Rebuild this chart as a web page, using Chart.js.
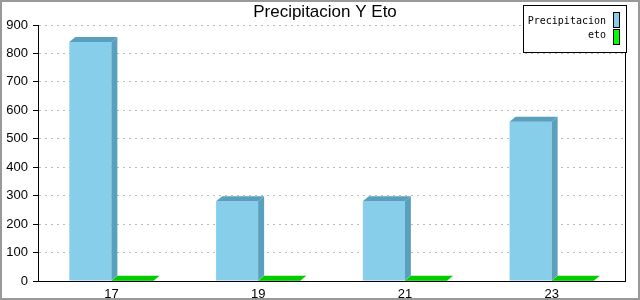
<!DOCTYPE html>
<html>
<head>
<meta charset="utf-8">
<script src="https://cdn.jsdelivr.net/npm/chart.js@4/dist/chart.umd.min.js"></script>
<style>
    html, body { margin: 0; padding: 0; background: #ffffff; }
    canvas { display: block; }
</style>
</head>
<body>
<canvas id="precip-chart" width="640" height="300"></canvas>
<script>
const categories = ["17", "19", "21", "23"];
const precipitacion = [840, 280, 280, 560];
const eto = [1, 1, 1, 1];
const yTicks = [0, 100, 200, 300, 400, 500, 600, 700, 800, 900];

const chartTitle = "Precipitacion Y Eto";
const seriesNames = ["Precipitacion", "eto"];
const frontColors = ["#87CEEB", "#00FF00"];
const depthColors = ["#58A0BD", "#00CC00"];

// === 3D faces, outer frame, title and legend ===
const decorPlugin = {
    id: "decor",
    beforeDraw(chart) {
        const ctx = chart.ctx;
        ctx.save();
        ctx.fillStyle = "#FFFFFF";
        ctx.fillRect(0, 0, chart.width, chart.height);
        ctx.strokeStyle = "#999999";
        ctx.lineWidth = 2;
        ctx.strokeRect(1, 1, chart.width - 2, chart.height - 2);
        ctx.restore();
    },
    afterDatasetsDraw(chart) {
        const ctx = chart.ctx;
        const dx = 6;
        const dy = 5;
        ctx.save();
        chart.data.datasets.forEach((ds, i) => {
            const meta = chart.getDatasetMeta(i);
            ctx.fillStyle = depthColors[i];
            meta.data.forEach((bar) => {
                const { x, y, base, width } = bar.getProps(["x", "y", "base", "width"], true);
                const x0 = x - width / 2;
                const x1 = x + width / 2;
                // side
                ctx.beginPath();
                ctx.moveTo(x1, y);
                ctx.lineTo(x1 + dx, y - dy);
                ctx.lineTo(x1 + dx, base - dy);
                ctx.lineTo(x1, base);
                ctx.closePath();
                ctx.fill();
                // top
                ctx.beginPath();
                ctx.moveTo(x0, y);
                ctx.lineTo(x0 + dx, y - dy);
                ctx.lineTo(x1 + dx, y - dy);
                ctx.lineTo(x1, y);
                ctx.closePath();
                ctx.fill();
            });
        });
        ctx.restore();
    },
    afterDraw(chart) {
        const ctx = chart.ctx;
        const area = chart.chartArea;
        ctx.save();

        // right frame line
        ctx.strokeStyle = "#000000";
        ctx.lineWidth = 1;
        ctx.beginPath();
        ctx.moveTo(Math.round(area.right) + 0.5, area.top);
        ctx.lineTo(Math.round(area.right) + 0.5, area.bottom);
        ctx.stroke();

        // title
        ctx.fillStyle = "#000000";
        ctx.font = "17px 'Liberation Sans', Arial, sans-serif";
        ctx.textAlign = "center";
        ctx.textBaseline = "alphabetic";
        ctx.fillText(chartTitle, 325, 17);

        // legend
        const lx = 523, ly = 5, lw = 103, lh = 47;
        ctx.fillStyle = "#FFFFFF";
        ctx.fillRect(lx, ly, lw, lh);
        ctx.strokeStyle = "#000000";
        ctx.strokeRect(lx + 0.5, ly + 0.5, lw, lh);
        ctx.font = "10px 'DejaVu Sans Mono', monospace";
        ctx.textAlign = "right";
        ctx.textBaseline = "middle";
        seriesNames.forEach((name, i) => {
            const cy = 21.5 + i * 14;
            ctx.fillStyle = "#000000";
            ctx.fillText(name, 606, cy);
            const top = 12 + i * 17;
            ctx.fillStyle = frontColors[i];
            ctx.fillRect(613, top, 6, 15);
            ctx.strokeRect(613.5, top + 0.5, 6, 15);
        });
        ctx.restore();
    },
};

// === Initialize Chart ===
Chart.defaults.font.family = "'Liberation Sans', Arial, sans-serif";
Chart.defaults.font.size = 13;
Chart.defaults.color = "#000000";

const ctx = document.getElementById("precip-chart").getContext("2d");
new Chart(ctx, {
    type: "bar",
    data: {
        labels: categories,
        datasets: [
            { label: seriesNames[0], data: precipitacion, backgroundColor: frontColors[0] },
            { label: seriesNames[1], data: eto, backgroundColor: frontColors[1] },
        ],
    },
    options: {
        responsive: false,
        animation: false,
        events: [],
        categoryPercentage: 0.573,
        barPercentage: 1,
        layout: { padding: { top: 25, right: 15, left: 0, bottom: 0 } },
        plugins: {
            legend: { display: false },
            title: { display: false },
            tooltip: { enabled: false },
        },
        scales: {
            x: {
                grid: { display: false, drawTicks: false },
                border: { display: true, color: "#000000", width: 1 },
                ticks: { padding: 6, font: { size: 13 } },
                afterFit: (scale) => { scale.height = 19; },
            },
            y: {
                min: 0,
                max: 900,
                afterBuildTicks: (scale) => {
                    scale.ticks = yTicks.map((v) => ({ value: v }));
                },
                grid: {
                    color: "#BBBBBB",
                    tickColor: "#000000",
                    tickLength: 5,
                    tickBorderDash: [],
                },
                border: { display: true, color: "#000000", width: 1, dash: [2, 4] },
                ticks: { padding: 5, font: { size: 13 } },
                afterFit: (scale) => { scale.width = 38; },
            },
        },
    },
    plugins: [decorPlugin],
});
</script>
</body>
</html>
